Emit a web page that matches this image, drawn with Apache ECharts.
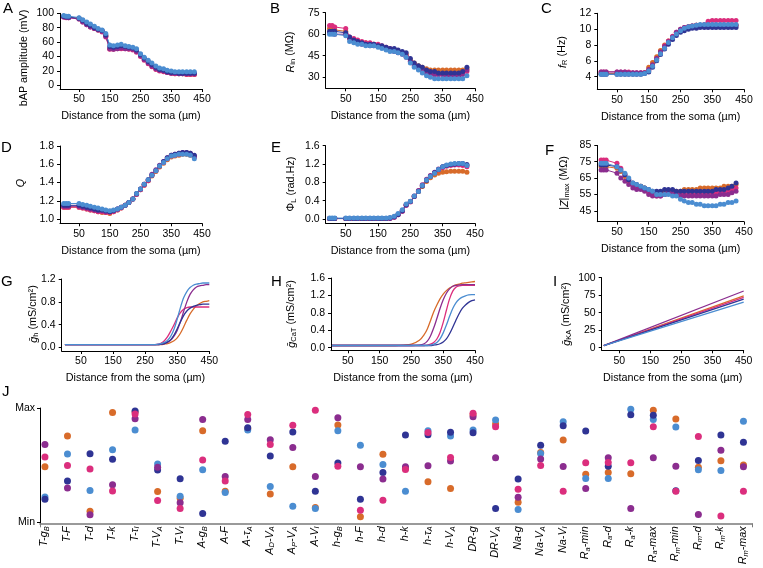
<!DOCTYPE html>
<html><head><meta charset="utf-8">
<script src="https://cdn.jsdelivr.net/npm/echarts@6/dist/echarts.min.js"></script>
<style>html,body{margin:0;padding:0;background:#fff}#c{width:763px;height:568px}</style>
</head><body><div id="c"></div>
<script>
// ---------- DATA ----------
const distAF = [0,8,16,50,62,75,87,100,112,125,137,150,162,175,187,200,212,225,237,250,262,275,287,300,312,325,337,350,362,375,387,400,412,425];
const distGH = [0,50,100,150,200,225,250,275,290,300,310,320,330,340,350,360,370,380,390,400,410,420,430,440,450];
const distI = [0,450];
const xTickValues = [50,150,250,350,450];

// A: bAP amplitude (mV)
const aOrange = [96,95,95,93,89,85,82,79,77,75,69,51,51,52,52,52,51,50,47,42,37,32,28,23,21,20,18,17,16,16,16,15,15,15];
const aPink   = [95,94,94,92,88,84,81,79,77,74,67,50,50,51,51,51,50,49,46,40,35,30,26,22,20,19,18,17,16,16,16,15,15,15];
const aPurple = [95,95,94,92,88,84,81,79,77,75,68,51,50,51,52,51,51,50,47,41,36,31,27,23,21,20,18,17,17,16,16,16,16,16];
const aNavy   = [96,95,95,93,90,86,83,80,78,76,70,54,53,54,55,54,53,52,49,43,38,33,29,25,22,21,19,18,18,17,17,17,17,17];
const aBlue   = [97,96,96,94,91,88,85,82,79,77,72,56,55,56,57,55,54,53,51,44,39,35,31,27,24,23,21,20,19,19,19,19,19,19];
const aTicks  = [0,20,40,60,80,100];

// B: Rin (MOhm)
const bOrange = [64,64,63,62,57,56,55,54,54,53,53,52,51,50,49,49,48,47,46,42,40,38,37,36,35,35,35,35,35,35,35,35,35,36];
const bPink   = [66,66,65,64,58,57,56,55,54,54,53,53,52,51,50,49,48,47,45,41,39,37,35,34,33,32,32,32,32,32,32,32,33,34];
const bPurple = [61,61,60,60,57,55,54,53,53,52,52,52,51,50,49,48,47,46,44,41,38,36,35,33,32,32,32,32,31,31,31,31,32,35];
const bNavy   = [62,62,62,61,58,56,55,54,53,53,53,52,52,51,50,50,49,48,47,43,40,38,37,35,34,34,33,33,33,33,33,33,34,37];
const bBlue   = [60,60,60,59,55,54,53,53,52,52,52,51,50,49,48,48,47,46,44,40,37,35,33,31,30,29,29,29,29,29,29,29,29,31];
const bTicks  = [30,45,60,75];

// C: fR (Hz)
const cOrange = [4.4,4.4,4.4,4.4,4.4,4.4,4.4,4.4,4.4,4.4,4.5,5.2,5.8,6.5,7.3,8.0,8.5,9.0,9.5,9.9,10.1,10.3,10.4,10.5,10.5,10.5,10.5,10.5,10.5,10.5,10.5,10.5,10.5,10.5];
const cPink   = [4.6,4.6,4.6,4.6,4.6,4.6,4.6,4.5,4.5,4.5,4.5,4.8,5.4,6.3,7.1,7.9,8.5,9.1,9.6,10.0,10.2,10.3,10.4,10.5,10.5,10.6,11.0,11.1,11.1,11.1,11.1,11.1,11.1,11.1];
const cPurple = [4.6,4.6,4.6,4.6,4.6,4.6,4.5,4.5,4.5,4.5,4.5,4.9,5.5,6.3,7.1,7.8,8.4,9.0,9.6,10.0,10.2,10.3,10.4,10.5,10.5,10.5,10.5,10.5,10.5,10.5,10.5,10.5,10.5,10.5];
const cNavy   = [4.3,4.3,4.3,4.3,4.3,4.3,4.3,4.3,4.3,4.3,4.4,4.6,5.2,6.0,6.8,7.5,8.1,8.7,9.2,9.6,9.8,10.0,10.1,10.1,10.2,10.2,10.2,10.2,10.2,10.2,10.2,10.2,10.2,10.2];
const cBlue   = [4.3,4.3,4.3,4.3,4.3,4.3,4.3,4.3,4.3,4.3,4.4,4.7,5.3,6.1,6.9,7.6,8.3,8.9,9.4,9.8,10.1,10.3,10.4,10.5,10.6,10.6,10.6,10.6,10.6,10.6,10.6,10.6,10.6,10.6];
const cTicks  = [4,6,8,10,12];

// D: Q
const dOrange = [1.13,1.13,1.13,1.13,1.12,1.11,1.10,1.09,1.08,1.07,1.07,1.06,1.08,1.10,1.12,1.15,1.18,1.22,1.27,1.32,1.37,1.42,1.47,1.52,1.57,1.61,1.65,1.68,1.69,1.70,1.71,1.71,1.70,1.68];
const dPink   = [1.13,1.13,1.13,1.13,1.12,1.11,1.10,1.09,1.08,1.08,1.07,1.07,1.08,1.10,1.12,1.15,1.18,1.22,1.27,1.32,1.37,1.42,1.48,1.53,1.58,1.62,1.66,1.69,1.70,1.71,1.72,1.72,1.71,1.68];
const dPurple = [1.14,1.14,1.14,1.14,1.13,1.12,1.11,1.10,1.09,1.09,1.08,1.08,1.09,1.11,1.13,1.15,1.18,1.22,1.27,1.33,1.38,1.43,1.49,1.54,1.59,1.63,1.67,1.70,1.71,1.72,1.73,1.73,1.72,1.69];
const dNavy   = [1.15,1.15,1.15,1.15,1.14,1.13,1.12,1.11,1.10,1.10,1.09,1.08,1.09,1.11,1.13,1.15,1.18,1.22,1.28,1.33,1.38,1.43,1.48,1.53,1.58,1.63,1.67,1.70,1.71,1.72,1.73,1.73,1.72,1.70];
const dBlue   = [1.17,1.17,1.17,1.17,1.16,1.15,1.14,1.13,1.12,1.11,1.10,1.09,1.10,1.11,1.13,1.15,1.18,1.22,1.28,1.33,1.38,1.43,1.48,1.53,1.58,1.62,1.66,1.69,1.70,1.71,1.71,1.71,1.70,1.66];
const dTicks  = [1.0,1.2,1.4,1.6,1.8];

// E: Phi_L (rad.Hz)
const eOrange = [0.01,0.01,0.01,0.01,0.01,0.01,0.01,0.01,0.01,0.01,0.01,0.01,0.01,0.01,0.02,0.05,0.10,0.18,0.31,0.38,0.49,0.60,0.71,0.82,0.90,0.96,1.00,1.02,1.03,1.04,1.04,1.04,1.04,1.02];
const ePink   = [0.01,0.01,0.01,0.01,0.01,0.01,0.01,0.01,0.01,0.01,0.01,0.01,0.01,0.01,0.02,0.04,0.09,0.17,0.30,0.37,0.49,0.61,0.73,0.85,0.94,1.01,1.07,1.12,1.15,1.17,1.18,1.18,1.17,1.14];
const ePurple = [0.01,0.01,0.01,0.01,0.01,0.01,0.01,0.01,0.01,0.01,0.01,0.01,0.01,0.01,0.01,0.04,0.09,0.17,0.30,0.38,0.50,0.62,0.75,0.87,0.95,1.02,1.09,1.14,1.17,1.19,1.19,1.20,1.20,1.17];
const eNavy   = [0.01,0.01,0.01,0.01,0.01,0.01,0.01,0.01,0.01,0.01,0.01,0.01,0.01,0.01,0.02,0.05,0.10,0.18,0.31,0.38,0.49,0.60,0.72,0.84,0.93,1.01,1.08,1.14,1.17,1.19,1.20,1.21,1.21,1.19];
const eBlue   = [0.02,0.02,0.02,0.02,0.02,0.02,0.02,0.02,0.02,0.02,0.02,0.02,0.02,0.02,0.03,0.06,0.12,0.20,0.33,0.39,0.50,0.60,0.73,0.85,0.93,1.00,1.08,1.14,1.18,1.20,1.21,1.21,1.21,1.17];
const eTicks  = [0.0,0.4,0.8,1.2,1.6];

// F: |Z|max (MOhm)
const fOrange = [72,72,72,71,69,66,63,61,60,60,59,57,56,56,56,57,57,57,57,57,58,58,58,58,59,59,59,59,59,59,60,60,60,61];
const fPink   = [76,76,76,74,71,67,64,61,60,59,58,56,55,54,54,55,56,56,55,55,55,55,55,55,55,55,56,56,56,56,57,57,58,59];
const fPurple = [70,70,70,68,65,63,61,59,58,58,57,55,54,54,54,55,56,56,55,54,54,54,54,54,54,54,54,54,54,55,55,55,56,57];
const fNavy   = [73,73,73,72,70,67,64,62,61,60,59,58,57,57,57,58,58,58,57,57,57,57,57,57,57,57,57,57,58,58,58,59,60,62];
const fBlue   = [74,74,74,72,70,68,65,62,61,60,59,58,57,55,55,55,55,54,54,52,51,50,50,49,49,48,48,48,48,49,49,50,50,51];
const fTicks  = [45,55,65,75,85];

// G: g_h (mS/cm2)
const gOrange = [0.05,0.05,0.05,0.05,0.05,0.05,0.05,0.05,0.05,0.05,0.06,0.07,0.09,0.12,0.17,0.25,0.36,0.48,0.59,0.67,0.73,0.77,0.80,0.81,0.82];
const gPink   = [0.05,0.05,0.05,0.05,0.05,0.05,0.05,0.05,0.06,0.08,0.12,0.19,0.29,0.40,0.52,0.61,0.67,0.70,0.71,0.71,0.71,0.71,0.71,0.71,0.71];
const gPurple = [0.05,0.05,0.05,0.05,0.05,0.05,0.05,0.05,0.05,0.06,0.07,0.09,0.13,0.20,0.30,0.45,0.63,0.80,0.93,1.01,1.06,1.08,1.09,1.10,1.10];
const gNavy   = [0.05,0.05,0.05,0.05,0.05,0.05,0.05,0.05,0.05,0.06,0.07,0.10,0.14,0.22,0.33,0.45,0.56,0.64,0.69,0.72,0.74,0.75,0.76,0.76,0.76];
const gBlue   = [0.05,0.05,0.05,0.05,0.05,0.05,0.05,0.05,0.06,0.07,0.09,0.13,0.20,0.32,0.50,0.70,0.87,0.98,1.05,1.09,1.11,1.12,1.13,1.13,1.13];
const gTicks  = [0.0,0.4,0.8,1.2];

// H: g_CaT (mS/cm2)
const hOrange = [0.05,0.05,0.05,0.05,0.05,0.06,0.08,0.17,0.30,0.43,0.62,0.82,0.98,1.12,1.23,1.31,1.37,1.41,1.44,1.46,1.48,1.49,1.50,1.51,1.52];
const hPink   = [0.05,0.05,0.05,0.05,0.05,0.05,0.05,0.05,0.05,0.06,0.08,0.12,0.20,0.35,0.58,0.86,1.12,1.30,1.39,1.42,1.43,1.43,1.43,1.43,1.43];
const hPurple = [0.05,0.05,0.05,0.05,0.05,0.05,0.05,0.06,0.09,0.15,0.27,0.45,0.67,0.90,1.10,1.25,1.35,1.41,1.43,1.44,1.45,1.45,1.45,1.45,1.45];
const hNavy   = [0.05,0.05,0.05,0.05,0.05,0.05,0.05,0.05,0.05,0.05,0.05,0.06,0.07,0.09,0.13,0.20,0.32,0.47,0.63,0.78,0.90,0.98,1.04,1.08,1.10];
const hBlue   = [0.05,0.05,0.05,0.05,0.05,0.05,0.05,0.05,0.05,0.05,0.06,0.08,0.12,0.20,0.34,0.52,0.72,0.90,1.03,1.11,1.16,1.19,1.21,1.22,1.22];
const hTicks  = [0.0,0.4,0.8,1.2,1.6];

// I: g_KA (mS/cm2)
const iOrange = [3,74];
const iPink   = [3,72];
const iPurple = [3,81];
const iNavy   = [3,69.5];
const iBlue   = [3,65];
const iTicks  = [0,25,50,75,100];

// J: normalized parameter values (0 = Min, 1 = Max)
const jLabels = ['T-g_B','T-F','T-d','T-k','T-τ_I','T-V_A','T-V_I','A-g_B','A-F','A-τ_A','A_D-V_A','A_P-V_A','A-V_I','h-g_B','h-F','h-d','h-k','h-τ_A','h-V_A','DR-g','DR-V_A','Na-g','Na-V_A','Na-V_I','R_a-min','R_a-d','R_a-k','R_a-max','R_m-min','R_m-d','R_m-k','R_m-max'];
const jOrange = [0.485,0.754,0.096,0.96,0.965,0.269,0.21,0.80,0.27,0.82,0.246,0.485,0.129,0.851,0.047,0.594,0.47,0.354,0.295,0.94,0.86,0.175,0.61,0.719,0.42,0.436,0.424,0.98,0.904,0.48,0.538,0.50];
const jPink   = [0.57,0.497,0.465,0.272,0.947,0.19,0.12,0.544,0.36,0.944,0.68,0.848,0.98,0.49,0.105,0.193,0.462,0.785,0.567,0.953,0.836,0.289,0.497,0.27,0.52,0.523,0.52,0.836,0.27,0.751,0.053,0.27];
const jPurple = [0.68,0.30,0.064,0.327,0.906,0.48,0.17,0.90,0.40,0.90,0.722,0.655,0.40,0.915,0.485,0.377,0.485,0.494,0.535,0.924,0.564,0.219,0.553,0.488,0.295,0.564,0.12,0.564,0.49,0.067,0.629,0.485];
const jNavy   = [0.20,0.36,0.60,0.55,0.974,0.456,0.38,0.076,0.708,0.827,0.58,0.79,0.27,0.518,0.20,0.436,0.763,0.766,0.787,0.784,0.12,0.377,0.673,0.845,0.798,0.49,0.94,0.937,0.275,0.541,0.763,0.70];
const jBlue   = [0.22,0.596,0.278,0.634,0.807,0.509,0.228,0.459,0.26,0.807,0.313,0.14,0.12,0.80,0.673,0.506,0.27,0.80,0.754,0.807,0.895,0.111,0.602,0.88,0.383,0.383,0.99,0.90,0.833,0.459,0.453,0.883];

// ---------- STYLE ----------
const COL = {orange:'#D86B2A', pink:'#DB2E7D', purple:'#8B2D8F', navy:'#2F3494', blue:'#4B8DD1'};
const ORDER = ['orange','pink','purple','navy','blue'];
const FONT = '"Liberation Sans", Arial, Helvetica, sans-serif';
const FS = 10.5;
const FSN = 10.8;

const panels = [
  {g:{left:60,   top:13.3,  width:142,   height:75.7}, x:[-12,450], y:[-5,100],     t:aTicks, dec:0, d:distAF, s:{orange:aOrange,pink:aPink,purple:aPurple,navy:aNavy,blue:aBlue}, dots:true},
  {g:{left:325.7,top:12.7,  width:149.3, height:75.6}, x:[-12,450], y:[22.3,75],    t:bTicks, dec:0, d:distAF, s:{orange:bOrange,pink:bPink,purple:bPurple,navy:bNavy,blue:bBlue}, dots:true},
  {g:{left:597.3,top:13.3,  width:146.7, height:76},   x:[-12,450], y:[2.4,12],     t:cTicks, dec:0, d:distAF, s:{orange:cOrange,pink:cPink,purple:cPurple,navy:cNavy,blue:cBlue}, dots:true},
  {g:{left:60,   top:146,   width:142,   height:77.3}, x:[-12,450], y:[0.953,1.8],  t:dTicks, dec:1, d:distAF, s:{orange:dOrange,pink:dPink,purple:dPurple,navy:dNavy,blue:dBlue}, dots:true},
  {g:{left:325.7,top:145.7, width:149.3, height:77.6}, x:[-12,450], y:[-0.094,1.6], t:eTicks, dec:1, d:distAF, s:{orange:eOrange,pink:ePink,purple:ePurple,navy:eNavy,blue:eBlue}, dots:true},
  {g:{left:597.3,top:145.4, width:146.7, height:76.3}, x:[-12,450], y:[38.3,85],    t:fTicks, dec:0, d:distAF, s:{orange:fOrange,pink:fPink,purple:fPurple,navy:fNavy,blue:fBlue}, dots:true},
  {g:{left:61.7, top:279,   width:147.6, height:72},   x:[-10,450], y:[-0.06,1.2],  t:gTicks, dec:1, d:distGH, s:{orange:gOrange,pink:gPink,purple:gPurple,navy:gNavy,blue:gBlue}, dots:false},
  {g:{left:331,  top:278,   width:144,   height:72.3}, x:[-3,450],  y:[-0.06,1.6],  t:hTicks, dec:1, d:distGH, s:{orange:hOrange,pink:hPink,purple:hPurple,navy:hNavy,blue:hBlue}, dots:false},
  {g:{left:601.7,top:277.7, width:142,   height:72.6}, x:[-6.6,450],y:[-3.7,100],   t:iTicks, dec:0, d:distI,  s:{orange:iOrange,pink:iPink,purple:iPurple,navy:iNavy,blue:iBlue}, dots:false}
];

const grid = [], xAxis = [], yAxis = [], series = [];
panels.forEach((p, i) => {
  grid.push(Object.assign({containLabel:false}, p.g));
  xAxis.push({
    type:'value', gridIndex:i, min:p.x[0], max:p.x[1],
    axisLine:{show:true, onZero:false, lineStyle:{color:'#000', width:1}},
    axisTick:{show:true, length:3, customValues:xTickValues, lineStyle:{color:'#000'}},
    axisLabel:{customValues:xTickValues, fontSize:FS, color:'#000', fontFamily:FONT, margin:5},
    splitLine:{show:false},
    name:'Distance from the soma (µm)', nameLocation:'middle', nameGap:22,
    nameTextStyle:{fontSize:FSN, color:'#000', fontFamily:FONT, verticalAlign:'top'}
  });
  yAxis.push({
    type:'value', gridIndex:i, min:p.y[0], max:p.y[1],
    axisLine:{show:true, onZero:false, lineStyle:{color:'#000', width:1}},
    axisTick:{show:true, length:3, customValues:p.t, lineStyle:{color:'#000'}},
    axisLabel:{customValues:p.t, fontSize:FS, color:'#000', fontFamily:FONT, margin:6,
      formatter:(v)=>Number(v).toFixed(p.dec)},
    splitLine:{show:false}
  });
  ORDER.forEach(k => {
    series.push({
      type:'line', xAxisIndex:i, yAxisIndex:i,
      data:p.d.map((x, j) => [x, p.s[k][j]]),
      symbol:'circle', symbolSize:p.dots ? 5 : 0, showSymbol:p.dots,
      smooth:!p.dots && p.d.length > 2 ? 0.3 : false,
      lineStyle:{color:COL[k], width:p.dots ? 1 : 1.3},
      itemStyle:{color:COL[k]},
      emphasis:{disabled:true}, silent:true
    });
  });
});

// Panel J
const J = panels.length;
const jx = jLabels.map((_, i) => i);
grid.push({left:40, top:408, width:712, height:115.3});
function richLabel(s) {
  let out = '';
  const re = /_(.)/g; let last = 0, m;
  while ((m = re.exec(s)) !== null) {
    if (m.index > last) out += '{n|' + s.slice(last, m.index) + '}';
    out += '{s|' + m[1] + '}';
    last = m.index + 2;
  }
  if (last < s.length) out += '{n|' + s.slice(last) + '}';
  return out;
}
xAxis.push({
  type:'value', gridIndex:J, min:-0.22, max:31.38,
  axisLine:{show:true, onZero:false, lineStyle:{color:'#7a7a7a', width:1.6}},
  axisTick:{show:true, length:4, customValues:[-0.22,31.38], lineStyle:{color:'#7a7a7a'}},
  axisLabel:{customValues:jx, rotate:90, margin:3, color:'#000',
    formatter:(v)=>richLabel(jLabels[Math.round(v)]),
    rich:{
      n:{fontSize:FSN, fontStyle:'italic', fontFamily:FONT, color:'#000', lineHeight:12, verticalAlign:'top'},
      s:{fontSize:7.5, fontStyle:'italic', fontFamily:FONT, color:'#000', lineHeight:8, padding:[6,0,0,0], verticalAlign:'bottom'}
    }},
  splitLine:{show:false}
});
yAxis.push({
  type:'value', gridIndex:J, min:-0.01, max:1,
  axisLine:{show:true, onZero:false, lineStyle:{color:'#000', width:1}},
  axisTick:{show:true, length:3, customValues:[0,1], lineStyle:{color:'#000'}},
  axisLabel:{customValues:[0,1], fontSize:FS, color:'#000', fontFamily:FONT, margin:5,
    formatter:(v)=> v > 0.5 ? 'Max' : 'Min'},
  splitLine:{show:false}
});
const jSeries = {orange:jOrange, pink:jPink, purple:jPurple, navy:jNavy, blue:jBlue};
['orange','blue','navy','purple','pink'].forEach(k => {
  series.push({
    type:'scatter', xAxisIndex:J, yAxisIndex:J,
    data:jx.map(i => [i, jSeries[k][i]]),
    symbol:'circle', symbolSize:7, itemStyle:{color:COL[k], opacity:1},
    emphasis:{disabled:true}, silent:true
  });
});

// titles & y-axis names
const sub = {fontSize:7.5, fontFamily:FONT, fill:'#000', lineHeight:8, padding:[6,0,0,0], verticalAlign:'bottom'};
const nrm = {fontSize:FSN, fontFamily:FONT, fill:'#000', lineHeight:12, verticalAlign:'top'};
const ita = Object.assign({}, nrm, {fontStyle:'italic'});
function yName(x, y, text) {
  return {type:'text', x:x, y:y, rotation:Math.PI/2,
    style:{text:text, fill:'#000', fontSize:FSN, fontFamily:FONT, align:'center', verticalAlign:'middle',
      rich:{n:nrm, i:ita, s:sub}}};
}
function letter(x, y, t) {
  return {type:'text', x:x, y:y, style:{text:t, fill:'#000', fontSize:15, fontFamily:FONT, align:'left', verticalAlign:'top'}};
}
const graphic = [
  letter(3,1,'A'), letter(270,1,'B'), letter(541,1,'C'),
  letter(1,140,'D'), letter(271,140,'E'), letter(545,143,'F'),
  letter(1,274,'G'), letter(271,274,'H'), letter(553,274,'I'), letter(2,384,'J'),
  yName(25, 58, '{n|bAP amplitude (mV)}'),
  yName(291, 52, '{i|R}{s|in}{n| (MΩ)}'),
  yName(563, 52, '{i|f}{s|R}{n| (Hz)}'),
  yName(21, 183, '{i|Q}'),
  yName(292, 184, '{n|Φ}{s|L}{n| (rad.Hz)}'),
  yName(565, 183, '{n||}{i|Z}{n||}{s|max}{n| (MΩ)}'),
  yName(34, 314, '{i|ḡ}{s|h}{n| (mS/cm²)}'),
  yName(292, 314, '{i|ḡ}{s|CaT}{n| (mS/cm²)}'),
  yName(567, 314, '{i|ḡ}{s|KA}{n| (mS/cm²)}')
];

const chart = echarts.init(document.getElementById('c'), null, {renderer:'canvas'});
chart.setOption({
  animation:false, backgroundColor:'#fff',
  textStyle:{fontFamily:FONT},
  grid, xAxis, yAxis, series, graphic
});
</script></body></html>
